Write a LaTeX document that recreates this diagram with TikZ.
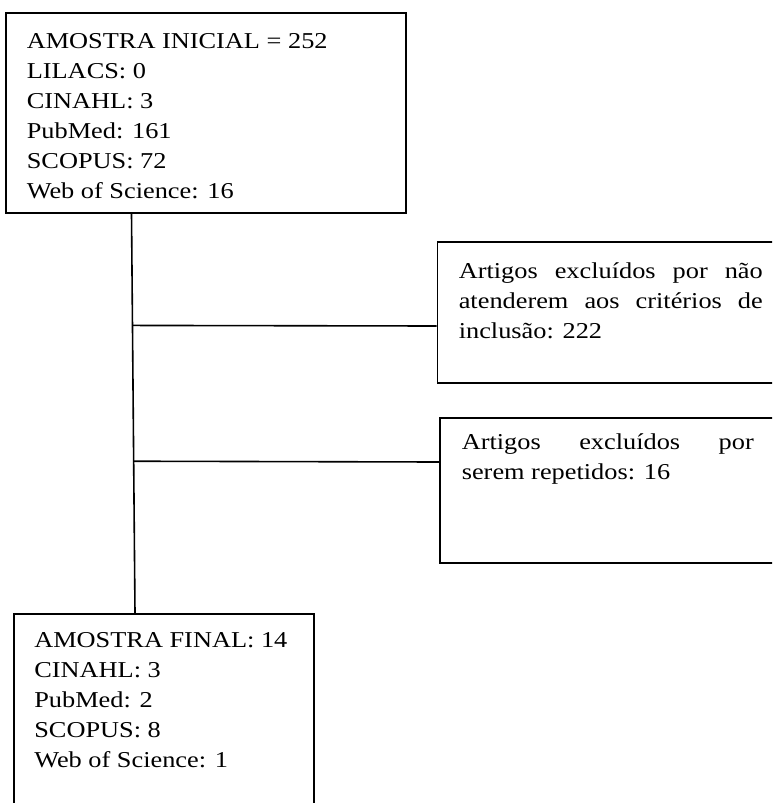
\documentclass[tikz,border=0pt]{standalone}
\usepackage{fontspec}
\setmainfont{Liberation Serif}[FakeStretch=1.16]
\usetikzlibrary{calc}

\begin{document}
\begin{tikzpicture}[x=1pt, y=-1pt,
  caixa/.style={draw, line width=1.6pt, anchor=north west, inner xsep=21pt,
                font=\fontsize{22.7}{30}\selectfont},
  linha/.style={line width=1.6pt}]
  \useasboundingbox (0,0) rectangle (772,803);
  \clip (0,0) rectangle (772,803);
  % amostra inicial
  \node[caixa, inner ysep=20.5pt] (ini) at (5,12)
    {\parbox[t][159pt][t]{358pt}{AMOSTRA~INICIAL~=~252\\ LILACS: 0\\ CINAHL: 3\\
     PubMed: 161\\ SCOPUS: 72\\ Web of Science: 16}};
  % exclusoes
  \node[caixa, inner xsep=21.5pt, inner ysep=21pt] (exc1) at (436.5,241)
    {\parbox[t][99pt][t]{304pt}{Artigos\hfill excluídos\hfill por\hfill não\\
     atenderem\hfill aos\hfill critérios\hfill de\\ inclusão: 222}};
  \node[caixa, inner xsep=22pt, inner ysep=16pt] (exc2) at (439,417)
    {\parbox[t][113pt][t]{292pt}{Artigos\hfill excluídos\hfill por\\ serem repetidos: 16}};
  % amostra final
  \node[caixa, inner xsep=20.5pt, inner ysep=19pt] (fin) at (13,613)
    {\parbox[t][250pt][t]{259pt}{AMOSTRA~FINAL:~14\\ CINAHL: 3\\ PubMed: 2\\
     SCOPUS: 8\\ Web of Science: 1}};
  % ligacoes
  \coordinate (topo) at ($(ini.south west)+(126.5,0)$);
  \coordinate (base) at ($(fin.north west)+(122,0)$);
  \coordinate (r1) at ($(topo)!0.28!(base)$);
  \coordinate (r2) at ($(topo)!0.62!(base)$);
  \draw[linha] (topo) -- (base);
  \draw[linha] (r1) -- ($(exc1.north west)+(0,85)$);
  \draw[linha] (r2) -- ($(exc2.north west)+(0,45)$);
\end{tikzpicture}
\end{document}
